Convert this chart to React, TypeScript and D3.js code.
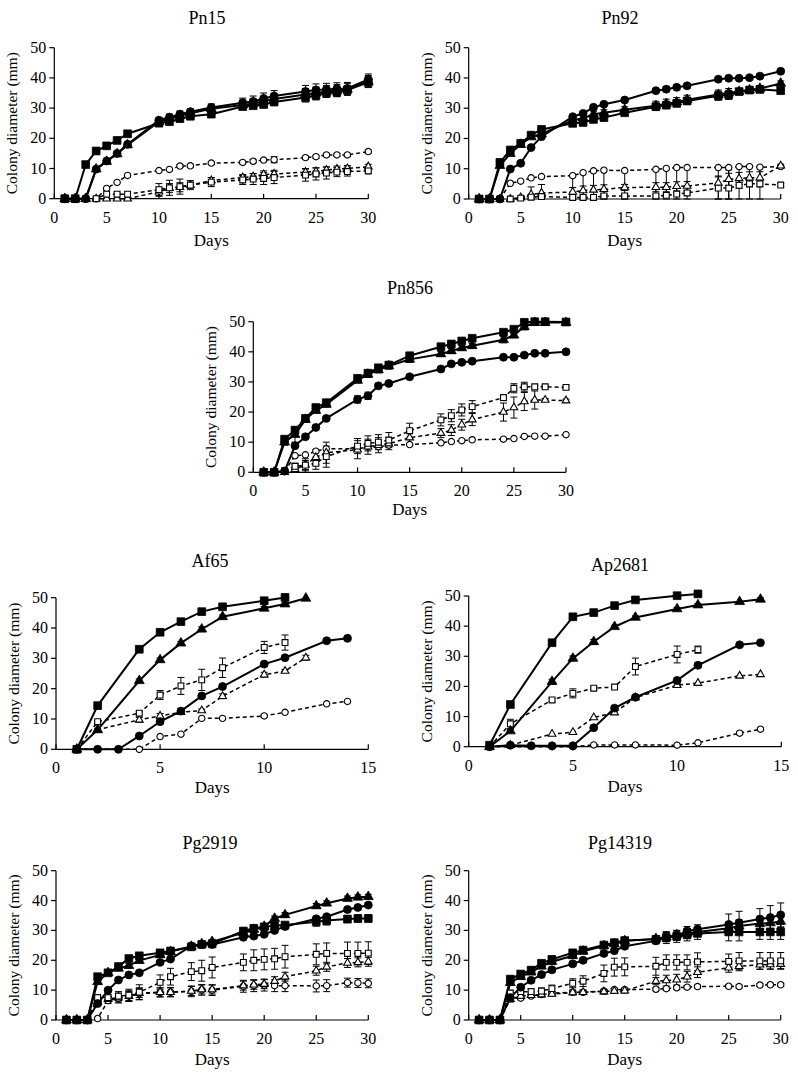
import React from 'react';
import * as d3 from 'd3';

// ---------- Days ----------
const DAYS_A = [1, 2, 3, 4, 5, 6, 7, 10, 11, 12, 13, 15, 18, 19, 20, 21, 24, 25, 26, 27, 28, 30];
const DAYS_AF = [1, 2, 3, 4, 5, 6, 7, 8, 10, 11, 12, 13, 14];
const DAYS_AP = [1, 2, 3, 4, 5, 6, 7, 8, 10, 11, 13, 14];
const DAYS_PG = [1, 2, 3, 4, 5, 6, 7, 8, 10, 11, 13, 14, 15, 18, 19, 20, 21, 22, 25, 26, 28, 29, 30];

const Y_TICKS = [0, 10, 20, 30, 40, 50];
const X_TICKS_30 = [0, 5, 10, 15, 20, 25, 30];
const X_TICKS_15 = [0, 5, 10, 15];

// ---------- Pn15 ----------
const PN15_FSQ = [0, 0, 11.3, 15.8, 17.5, 19.3, 21.5, 25, 25.5, 26.5, 27.3, 28, 30.5, 30.8, 31.2, 32, 33.5, 34.2, 35, 35.3, 36, 38.5];
const PN15_FSQ_E = [0, 0, 0.5, 0.5, 0.5, 0.5, 0.5, 0.8, 0.8, 0.8, 1, 1, 1, 1, 1, 1, 1.5, 1.5, 1.5, 1.5, 1.5, 1.5];
const PN15_FTR = [0, 0, 0, 9.8, 12.3, 14.8, 17.8, 25.5, 26.5, 27.5, 28.3, 29.8, 31, 31.5, 32.3, 33, 34.5, 35, 35.5, 35.8, 36.2, 38.8];
const PN15_FTR_E = [0, 0, 0, 0.5, 0.5, 0.5, 0.5, 1, 1, 1, 1, 1.2, 1.5, 1.5, 1.5, 1.5, 2, 2, 2, 2, 2, 2];
const PN15_FCI = [0, 0, 0, 9.8, 12.5, 15, 18, 26, 27, 28, 28.8, 30.2, 31.8, 32.2, 33.2, 34, 35.5, 36, 36.2, 36.4, 36.5, 39.5];
const PN15_FCI_E = [0, 0, 0, 0.5, 0.5, 0.5, 0.5, 0.8, 1, 1, 1, 1.2, 1.5, 1.8, 1.8, 1.8, 2, 2, 2, 2, 2, 1.8];
const PN15_OSQ = [0, 0, 0, 0, 1.5, 1.5, 1.5, 3, 3.6, 4, 4.5, 5.5, 6.2, 6.5, 6.7, 7, 7.8, 8.2, 8.5, 8.8, 9, 9.2];
const PN15_OSQ_E = [0, 0, 0, 0, 0.3, 0.3, 0.3, 2, 2.5, 2.5, 1.5, 1.5, 1.5, 1.8, 2, 2, 2, 2, 2, 1.5, 1.5, 0.8];
const PN15_OTR = [0, 0, 0, 0, 0, 0, 0, 2.3, 3.5, 3.8, 4.5, 6, 7, 7.3, 8, 8.2, 8.8, 9, 9.5, 9.8, 10, 10.6];
const PN15_OTR_E = [0, 0, 0, 0, 0, 0, 0, 1.5, 1.5, 1.5, 1, 1, 1, 1, 1.2, 1.2, 1.2, 1.2, 1, 1, 1, 0.8];
const PN15_OCI = [0, 0, 0, 0, 3.4, 5.4, 7.7, 9.3, 9.7, 10.8, 10.9, 11.8, 12, 12.4, 12.8, 12.9, 13.6, 13.9, 14.5, 14.5, 14.5, 15.6];
const PN15_OCI_E = [0, 0, 0, 0, 0.3, 0.3, 0.3, 0.3, 0.3, 0.5, 0.5, 0.5, 0.5, 0.5, 0.5, 1, 0.5, 0.5, 0.5, 0.5, 0.5, 0.5];

// ---------- Pn92 ----------
const PN92_FSQ = [0, 0, 12.1, 16.2, 18.4, 21.1, 23, 25, 25.3, 26.3, 26.9, 28.5, 30.5, 31, 31.6, 32.4, 34.1, 34.4, 35.5, 36, 36.2, 35.8];
const PN92_FSQ_E = [0, 0, 0.5, 0.5, 0.5, 0.5, 0.5, 0.8, 0.8, 0.8, 0.8, 0.8, 1, 1, 1, 1, 1.5, 1.5, 1, 1, 1, 0.8];
const PN92_FTR = [0, 0, 11, 15, 18, 20.5, 21.5, 26, 26.7, 28, 28.5, 29.5, 30.8, 31.5, 32, 32.8, 34.5, 35, 35.5, 36, 36.5, 38.2];
const PN92_FTR_E = [0, 0, 0.5, 0.5, 0.5, 0.5, 0.5, 1, 1, 1, 1, 1, 1.5, 1.5, 1.5, 1.5, 1.5, 1.5, 1, 1, 1, 0.8];
const PN92_FCI = [0, 0, 0, 9.9, 11.8, 17, 20.6, 27.2, 28.3, 30.3, 31.3, 32.7, 35.8, 36.3, 36.9, 37.4, 39.6, 39.9, 39.9, 40.1, 40.6, 42.2];
const PN92_FCI_E = [0, 0, 0, 0.3, 0.3, 0.3, 0.3, 0.5, 0.5, 0.5, 0.5, 0.5, 0.5, 0.8, 0.8, 0.8, 0.5, 0.5, 0.5, 0.5, 0.5, 0.5];
const PN92_OSQ = [0, 0, 0, 0, 0.3, 0.6, 0.8, 0.5, 0.5, 0.5, 1, 1, 1, 1.2, 1.6, 2, 3.6, 3.6, 4.5, 5, 5, 4.6];
const PN92_OSQ_E = [0, 0, 0, 0, 0.3, 0.5, 0.5, 0.5, 0.5, 0.5, 0.5, 0.5, 0.5, 0.5, 0.5, 0.5, 4, 6, 1, 1, 1, 0.5];
const PN92_OTR = [0, 0, 0, 0, 0.5, 1.5, 2, 2.3, 2.8, 3, 3.2, 3.8, 3.9, 3.9, 4.2, 4.3, 5.3, 6.5, 6.8, 7, 7, 11];
const PN92_OTR_E = [0, 0, 0, 0, 0.3, 2.5, 2.8, 1.5, 1.5, 1.5, 1.5, 1, 1.5, 1.5, 1.5, 1.5, 2, 2, 2, 2, 2, 0.5];
const PN92_OCI = [0, 0, 0, 5.2, 5.9, 7, 7.4, 7.7, 8.7, 9.3, 9.5, 9.4, 9.8, 10.1, 10.4, 10.4, 10.4, 10.4, 10.7, 10.7, 10.5, 10.7];
// lower-only error bars (reference shows them running down to the axis)
const PN92_OCI_E = [0, 0, 0, 0.3, 0.3, 0.3, 0.5, 7.7, 8.7, 9.3, 9.5, 9.4, 9.8, 10.1, 10.4, 10.4, 10.4, 10.4, 10.7, 10.7, 10.5, 0.5];

// ---------- Pn856 ----------
const PN856_FSQ = [0, 0, 11, 14, 17.9, 21.5, 23.1, 31.2, 32.9, 34.7, 35.6, 38.7, 41.7, 42.6, 43.6, 44.5, 46.5, 47.5, 49.8, 50, 50, 49.9];
const PN856_FSQ_E = [0, 0, 1, 0.5, 0.5, 0.8, 0.8, 0.8, 1, 1, 1, 1, 0.8, 0.8, 0.8, 0.8, 0.8, 0.8, 0.8, 0.5, 0.5, 0.5];
const PN856_FTR = [0, 0, 10, 12.5, 17.5, 20.5, 22.5, 30.5, 32.5, 34, 35.3, 37.5, 39.3, 40.3, 41.3, 42, 44, 45.5, 48.3, 49.7, 49.7, 49.7];
const PN856_FTR_E = [0, 0, 1, 2.5, 0.8, 0.8, 0.8, 0.8, 1, 1, 1, 1, 0.8, 0.8, 0.8, 0.8, 1, 0.8, 1, 0.5, 0.5, 0.5];
const PN856_FCI = [0, 0, 0.4, 8.8, 11.8, 14.9, 17.9, 24.2, 25.4, 28.7, 29.5, 31.7, 34.3, 36, 36.5, 36.9, 38.2, 38.2, 38.9, 39.5, 39.5, 40];
const PN856_FCI_E = [0, 0, 0, 0.5, 0.5, 0.5, 0.5, 1.2, 1.2, 0.8, 0.5, 0.5, 0.5, 0.5, 0.5, 0.5, 0.5, 0.5, 0.5, 0.5, 0.5, 0.5];
const PN856_OSQ = [0, 0, 0.5, 2, 2.4, 3, 5.2, 8.7, 9.6, 10, 10.7, 13.8, 17.4, 18.8, 20.7, 21.8, 24.8, 27.9, 28.4, 28.4, 28.4, 28.2];
const PN856_OSQ_E = [0, 0, 0, 1, 1.5, 2, 3.5, 2.5, 2.5, 2.5, 2.5, 2.5, 2, 2, 2, 2, 1, 1.5, 1.5, 0.5, 0.5, 0.5];
const PN856_OTR = [0, 0, 0, 1, 2.5, 5, 6.5, 7.5, 8.5, 9, 9.5, 11.5, 13, 14, 15.8, 17.5, 20, 21.5, 23.5, 24, 24, 23.8];
const PN856_OTR_E = [0, 0, 0, 1.5, 2, 2.5, 3.5, 3, 2.5, 2.5, 2, 2, 1.5, 1.8, 1.8, 2, 3, 3.5, 3, 3, 0.5, 0.5];
const PN856_OCI = [0, 0, 0.3, 5.5, 5.8, 7, 7.8, 7.8, 8.5, 8.5, 9, 9.2, 9.8, 10.2, 10.5, 10.8, 11, 11.2, 11.9, 12, 12, 12.5];
const PN856_OCI_E = [0, 0, 0, 0.3, 0.3, 0.3, 0.3, 0.3, 0.3, 0.3, 0.3, 0.3, 0.3, 0.3, 0.3, 0.3, 0.3, 0.3, 0.3, 0.3, 0.3, 0.3];

// ---------- Af65 ----------
const AF65_FSQ = [0, 14.4, null, 33, 38.6, 42.1, 45.4, 47, 49, 50.1, null, null, null];
const AF65_FSQ_E = [0, 0.5, 0, 0.5, 0.5, 0.5, 0.5, 0.5, 0.5, 0.5, 0, 0, 0];
const AF65_FTR = [0, 6.4, null, 22.6, 29.5, 35, 39.6, 43.7, 46.5, 47.9, 49.8, null, null];
const AF65_FTR_E = [0, 0.5, 0, 0.6, 0.6, 0.6, 0.8, 0.6, 0.6, 0.5, 0.3, 0, 0];
const AF65_FCI = [0, 0, 0, 4.4, 9.1, 12.6, 17.6, 20.7, 28.1, 30.2, null, 35.8, 36.6];
const AF65_FCI_E = [0, 0, 0, 0.3, 0.3, 0.3, 0.5, 0.5, 0.5, 0.5, 0, 0.5, 0.5];
const AF65_OSQ = [0, 9.1, null, 11.9, 17.9, 20.9, 22.9, 26.9, 33.6, 35.2, null, null, null];
const AF65_OSQ_E = [0, 0.5, 0, 0.5, 1.5, 2.8, 3.5, 3.2, 2, 2.5, 0, 0, 0];
const AF65_OTR = [0, 6.5, null, 9.7, 11, 12.2, 12.8, 17.5, 24.6, 25.8, 30.2, null, null];
const AF65_OTR_E = [0, 0.3, 0, 0.8, 0.8, 0.5, 0.5, 0.8, 0.8, 0.5, 0.8, 0, 0];
const AF65_OCI = [0, null, null, 0, 4.2, 5, 10.2, 10.2, 11, 12.2, null, 15, 15.8];
const AF65_OCI_E = [0, 0, 0, 0, 0.3, 0.3, 0.3, 0.3, 0.5, 0.3, 0, 0.3, 0.3];

// ---------- Ap2681 ----------
const AP_FSQ = [0.5, 14, null, 34.5, 43.1, 44.5, 46.8, 48.7, 50.1, 50.7, null, null];
const AP_FSQ_E = [0, 0.8, 0, 0.8, 0.5, 0.5, 0.8, 0.8, 0.5, 0.5, 0, 0];
const AP_FTR = [0, 5.2, null, 21.6, 29.3, 34.8, 39.8, 42.9, 45.7, 47, 48.1, 48.9];
const AP_FTR_E = [0, 0.5, 0, 0.8, 0.8, 0.8, 0.5, 0.5, 0.5, 0.5, 0.3, 0.5];
const AP_FCI = [0, 0.5, 0.3, 0.3, 0.3, 6.3, 12.8, 16.4, 22, 27, 33.8, 34.5];
const AP_FCI_E = [0, 0, 0, 0, 0, 0.5, 0.8, 0.5, 0.5, 0.8, 0.5, 0.5];
const AP_OSQ = [0, 7.6, null, 15.5, 17.7, 19.4, 19.8, 26.6, 30.6, 32.2, null, null];
const AP_OSQ_E = [0, 1.5, 0, 0.5, 1.5, 0.5, 0.5, 2.8, 2.8, 1.2, 0, 0];
const AP_OTR = [0, 0.5, null, 4.2, 4.8, 9.7, 11.3, 16.3, 20.4, 21.1, 23.5, 24];
const AP_OTR_E = [0, 0, 0, 0.3, 0.3, 0.3, 0.3, 0.3, 0.5, 0.3, 0.3, 0.3];
const AP_OCI = [0, null, null, 0, 0, 0.6, 0.6, 0.6, 0.5, 1.3, 4.5, 5.8];
const AP_OCI_E = [0, 0, 0, 0, 0, 0, 0, 0, 0, 0.3, 0.5, 0.5];

// ---------- Pg2919 ----------
const PG29_FTR = [0, 0, 0, 12.8, 15.8, 17.3, 18.2, 19.9, 21.8, 22.9, 24.6, 25.5, 26.2, 29.2, 30.3, 31.3, 34, 35.2, 38.2, 39.1, 40.7, 41.1, 41.3];
const PG29_FTR_E = [0, 0, 0, 0.8, 0.8, 0.8, 0.8, 0.8, 0.8, 0.8, 0.8, 0.8, 0.8, 0.8, 0.8, 0.8, 0.8, 0.8, 0.8, 0.8, 0.8, 0.8, 0.8];
const PG29_FSQ = [0, 0, 0, 14.5, 15.8, 17.9, 20.6, 21.5, 22.5, 23.1, 24.5, 25.3, 25.5, 29.8, 30.7, 31.2, 31.6, 31.8, 32.9, 33.3, 33.8, 34, 34];
const PG29_FSQ_E = [0, 0, 0, 0.8, 0.8, 0.8, 0.8, 0.8, 0.8, 0.8, 0.8, 0.8, 0.8, 0.8, 0.8, 0.8, 0.8, 0.8, 1.5, 1.5, 1.2, 1.2, 1.2];
const PG29_FCI = [0, 0, 0, 5.5, 10, 13.4, 15.1, 15.8, 19.3, 20.4, 24.8, 25.3, 25.3, 27.7, 28.1, 28.7, 30, 31.3, 33.9, 34.6, 37, 37.7, 38.5];
const PG29_FCI_E = [0, 0, 0, 0.5, 0.5, 0.5, 0.5, 0.5, 0.5, 0.5, 0.5, 0.5, 0.5, 0.5, 0.5, 0.5, 0.5, 0.5, 0.5, 0.5, 0.5, 0.5, 0.5];
const PG29_OSQ = [0, 0, 0, 7.5, 7.5, 8, 8.3, 9.3, 12.6, 14.5, 16.2, 16.5, 17.6, 19.3, 20, 20.3, 20.5, 21.2, 22, 22.3, 22.3, 22.3, 22.4];
const PG29_OSQ_E = [0, 0, 0, 1, 1, 1.5, 2, 2.5, 2.5, 2.8, 3, 3.5, 3.5, 2.8, 3.5, 3.5, 3.5, 3.8, 3.5, 3.5, 3.8, 3.8, 3.8];
const PG29_OTR = [0, 0, 0, 6, 7, 7.5, 8, 9, 9.3, 9.3, 9.7, 10.2, 10.2, 11.5, 11.8, 12, 13, 14.5, 16.5, 17.8, 19.1, 19.3, 19.5];
const PG29_OTR_E = [0, 0, 0, 1, 1, 1.5, 1.5, 1.5, 1.5, 1.5, 1.5, 1.5, 1.5, 1.5, 1.5, 1.5, 1.5, 1.5, 1.5, 1.5, 1.5, 1.5, 1.5];
const PG29_OCI = [0, 0, 0, 0.5, 6.5, 7.2, 8, 8.8, 9.2, 9.3, 9.6, 10.1, 10, 11.3, 11.5, 11.7, 11.5, 11.5, 11.4, 11.5, 12.5, 12.4, 12.3];
const PG29_OCI_E = [0, 0, 0, 0.3, 1, 1.5, 1.8, 2, 1.5, 1.5, 1.8, 1.8, 1.8, 2, 2, 2, 2, 2, 2, 2, 1.5, 1.5, 1.5];

// ---------- Pg14319 ----------
const PG14_FSQ = [0, 0, 0, 13.7, 15.4, 16.7, 19, 20.3, 22.5, 23.4, 25.1, 25.9, 26.6, 27, 27.6, 28, 28.5, 29, 29.5, 29.5, 29.5, 29.5, 29.5];
const PG14_FSQ_E = [0, 0, 0, 0.8, 0.8, 0.8, 0.8, 0.8, 0.8, 0.8, 0.8, 0.8, 0.8, 1, 2, 2, 2, 2, 3, 3, 2.5, 2.5, 2.5];
const PG14_FTR = [0, 0, 0, 12.5, 14.5, 16, 18, 19.5, 21.5, 23, 24.8, 25.5, 26.5, 27.2, 27.8, 28.5, 29, 29.5, 30.7, 31.5, 32.3, 32.5, 33];
const PG14_FTR_E = [0, 0, 0, 0.8, 0.8, 0.8, 0.8, 0.8, 0.8, 0.8, 0.8, 0.8, 0.8, 1, 1.5, 1.5, 1.5, 1.5, 2, 2, 2, 2, 2];
const PG14_FCI = [0, 0, 0, 7.5, 11, 13.3, 15.2, 16.8, 18.8, 20, 22.3, 23.2, 24.7, 26.5, 27.7, 28.2, 29.8, 30.4, 32, 32.6, 33.8, 34.3, 35.2];
const PG14_FCI_E = [0, 0, 0, 0.8, 0.8, 0.8, 0.8, 0.8, 0.8, 0.8, 0.8, 0.8, 0.8, 1, 1.5, 1.5, 1.5, 1.5, 3.5, 3.8, 3.5, 4, 4];
const PG14_OSQ = [0, 0, 0, 9, 9.5, 9.5, 9.7, 10.5, 12.3, 13, 15.6, 17.7, 17.8, 18, 19.3, 19.3, 19.3, 19.5, 19.6, 19.8, 19.8, 19.8, 19.8];
const PG14_OSQ_E = [0, 0, 0, 1, 1, 1, 1, 1.2, 1.5, 1.8, 2.8, 3, 3, 3, 2.5, 2.5, 2.5, 3, 2.5, 2.8, 2.8, 2.8, 2.8];
const PG14_OTR = [0, 0, 0, 7, 8, 8.3, 8.5, 8.7, 9.2, 9.3, 9.5, 9.7, 9.8, 13, 13.2, 13.5, 14.5, 16, 17.5, 18, 18.5, 18.6, 18.7];
const PG14_OTR_E = [0, 0, 0, 1, 0.8, 0.8, 0.8, 0.8, 0.8, 0.8, 0.8, 0.8, 0.8, 1.2, 1.8, 1.8, 1.8, 1.8, 1.5, 1.5, 1.5, 1.5, 1.5];
const PG14_OCI = [0, 0, 0, 7.5, 7.3, 8, 8.5, 9, 9.3, 9.3, 9.7, 10.2, 10.2, 10.3, 10.5, 10.8, 11, 11.2, 11.3, 11.2, 11.7, 11.8, 11.8];
const PG14_OCI_E = [0, 0, 0, 0.5, 0.5, 0.5, 0.5, 0.5, 0.5, 0.5, 0.5, 0.5, 0.5, 0.5, 0.5, 0.5, 0.5, 0.5, 0.5, 0.5, 0.5, 0.5, 0.5];

type Shape = 'square' | 'triangle' | 'circle';
type Series = { v: (number | null)[]; e: number[]; shape: Shape; filled: boolean; lowerOnly?: boolean };
type Panel = {
  title: string;
  days: number[];
  xMax: number;
  xTicks: number[];
  box: [number, number, number, number];
  titleX: number;
  titleY: number;
  daysY: number;
  series: Series[];
};

function mk(
  osq: (number | null)[], osqE: number[],
  otr: (number | null)[], otrE: number[],
  oci: (number | null)[], ociE: number[],
  fci: (number | null)[], fciE: number[],
  ftr: (number | null)[], ftrE: number[],
  fsq: (number | null)[], fsqE: number[],
  ociLowerOnly = false
): Series[] {
  return [
    { v: oci, e: ociE, shape: 'circle', filled: false, lowerOnly: ociLowerOnly },
    { v: otr, e: otrE, shape: 'triangle', filled: false },
    { v: osq, e: osqE, shape: 'square', filled: false },
    { v: fci, e: fciE, shape: 'circle', filled: true },
    { v: ftr, e: ftrE, shape: 'triangle', filled: true },
    { v: fsq, e: fsqE, shape: 'square', filled: true },
  ];
}

const PANELS: Panel[] = [
  {
    title: 'Pn15', days: DAYS_A, xMax: 30, xTicks: X_TICKS_30,
    box: [54.3, 368.3, 47.7, 198.7], titleX: 207, titleY: 24, daysY: 246,
    series: mk(PN15_OSQ, PN15_OSQ_E, PN15_OTR, PN15_OTR_E, PN15_OCI, PN15_OCI_E, PN15_FCI, PN15_FCI_E, PN15_FTR, PN15_FTR_E, PN15_FSQ, PN15_FSQ_E),
  },
  {
    title: 'Pn92', days: DAYS_A, xMax: 30, xTicks: X_TICKS_30,
    box: [468.7, 780.7, 47.7, 199], titleX: 620, titleY: 24, daysY: 246,
    series: mk(PN92_OSQ, PN92_OSQ_E, PN92_OTR, PN92_OTR_E, PN92_OCI, PN92_OCI_E, PN92_FCI, PN92_FCI_E, PN92_FTR, PN92_FTR_E, PN92_FSQ, PN92_FSQ_E, true),
  },
  {
    title: 'Pn856', days: DAYS_A, xMax: 30, xTicks: X_TICKS_30,
    box: [253.3, 566, 321.7, 472.3], titleX: 410, titleY: 294, daysY: 515,
    series: mk(PN856_OSQ, PN856_OSQ_E, PN856_OTR, PN856_OTR_E, PN856_OCI, PN856_OCI_E, PN856_FCI, PN856_FCI_E, PN856_FTR, PN856_FTR_E, PN856_FSQ, PN856_FSQ_E),
  },
  {
    title: 'Af65', days: DAYS_AF, xMax: 15, xTicks: X_TICKS_15,
    box: [56, 368.3, 597.7, 749.3], titleX: 210, titleY: 567, daysY: 793,
    series: mk(AF65_OSQ, AF65_OSQ_E, AF65_OTR, AF65_OTR_E, AF65_OCI, AF65_OCI_E, AF65_FCI, AF65_FCI_E, AF65_FTR, AF65_FTR_E, AF65_FSQ, AF65_FSQ_E),
  },
  {
    title: 'Ap2681', days: DAYS_AP, xMax: 15, xTicks: X_TICKS_15,
    box: [468.7, 781.3, 596, 746.7], titleX: 620, titleY: 571, daysY: 792,
    series: mk(AP_OSQ, AP_OSQ_E, AP_OTR, AP_OTR_E, AP_OCI, AP_OCI_E, AP_FCI, AP_FCI_E, AP_FTR, AP_FTR_E, AP_FSQ, AP_FSQ_E),
  },
  {
    title: 'Pg2919', days: DAYS_PG, xMax: 30, xTicks: X_TICKS_30,
    box: [56, 368.3, 870.7, 1020], titleX: 210, titleY: 849, daysY: 1065,
    series: mk(PG29_OSQ, PG29_OSQ_E, PG29_OTR, PG29_OTR_E, PG29_OCI, PG29_OCI_E, PG29_FCI, PG29_FCI_E, PG29_FTR, PG29_FTR_E, PG29_FSQ, PG29_FSQ_E),
  },
  {
    title: 'Pg14319', days: DAYS_PG, xMax: 30, xTicks: X_TICKS_30,
    box: [468.7, 780.7, 870.7, 1020], titleX: 620, titleY: 849, daysY: 1065,
    series: mk(PG14_OSQ, PG14_OSQ_E, PG14_OTR, PG14_OTR_E, PG14_OCI, PG14_OCI_E, PG14_FCI, PG14_FCI_E, PG14_FTR, PG14_FTR_E, PG14_FSQ, PG14_FSQ_E),
  },
];

const TXT: React.CSSProperties = { fontFamily: 'Liberation Serif, Times New Roman, serif' };

function symbolPath(shape: Shape, filled: boolean): string {
  const type = shape === 'square' ? d3.symbolSquare : shape === 'triangle' ? d3.symbolTriangle : d3.symbolCircle;
  const size = filled
    ? (shape === 'square' ? 60 : shape === 'triangle' ? 42 : 50)
    : (shape === 'square' ? 34 : shape === 'triangle' ? 26 : 32);
  return d3.symbol().type(type).size(size)() || '';
}

function PanelView({ p }: { p: Panel }) {
  const [l, r, t, b] = p.box;
  const x = d3.scaleLinear().domain([0, p.xMax]).range([l, r]);
  const y = d3.scaleLinear().domain([0, 50]).range([b, t]);
  const line = d3.line<[number, number]>().x((d) => x(d[0])).y((d) => y(d[1]));

  const pts = (s: Series) =>
    p.days
      .map((d, i) => ({ d, v: s.v[i], e: s.e[i] || 0 }))
      .filter((o) => o.v !== null && o.v !== undefined) as { d: number; v: number; e: number }[];

  return (
    <g>
      <text x={p.titleX} y={p.titleY} textAnchor="middle" fontSize={18} style={TXT} fill="#000">
        {p.title}
      </text>
      {/* y axis */}
      <line x1={l} x2={l} y1={t} y2={b} stroke="#000" strokeWidth={1.2} />
      {Y_TICKS.map((v) => (
        <g key={'y' + v}>
          <line x1={l - 5} x2={l} y1={y(v)} y2={y(v)} stroke="#000" strokeWidth={1.2} />
          <text x={l - 8} y={y(v) + 5} textAnchor="end" fontSize={16} style={TXT} fill="#000">
            {v}
          </text>
        </g>
      ))}
      <text
        transform={`translate(${l - 37},${(t + b) / 2}) rotate(-90)`}
        textAnchor="middle"
        fontSize={15.5}
        style={TXT}
        fill="#000"
      >
        Colony diameter (mm)
      </text>
      {/* x axis */}
      <line x1={l} x2={r} y1={b} y2={b} stroke="#000" strokeWidth={1.2} />
      {p.xTicks.map((v) => (
        <g key={'x' + v}>
          <line x1={x(v)} x2={x(v)} y1={b} y2={b - 5} stroke="#000" strokeWidth={1.2} />
          <text x={x(v)} y={b + 24} textAnchor="middle" fontSize={16} style={TXT} fill="#000">
            {v}
          </text>
        </g>
      ))}
      <text x={(l + r) / 2} y={p.daysY} textAnchor="middle" fontSize={17} style={TXT} fill="#000">
        Days
      </text>
      {/* series */}
      {p.series.map((s, si) => {
        const ps = pts(s);
        return (
          <g key={'s' + si}>
            <path
              d={line(ps.map((o) => [o.d, o.v] as [number, number])) || ''}
              fill="none"
              stroke="#000"
              strokeWidth={s.filled ? 2 : 1.5}
              strokeDasharray={s.filled ? undefined : '4,3'}
            />
            {ps
              .filter((o) => o.e >= 0.4)
              .map((o, i) => {
                const cx = x(o.d);
                const y1 = y(Math.max(0, o.v - o.e));
                const y2 = s.lowerOnly ? y(o.v) : y(Math.min(50.5, o.v + o.e));
                return (
                  <g key={'e' + i} stroke="#000" strokeWidth={1}>
                    <line x1={cx} x2={cx} y1={y1} y2={y2} />
                    <line x1={cx - 3.5} x2={cx + 3.5} y1={y1} y2={y1} />
                    {!s.lowerOnly && <line x1={cx - 3.5} x2={cx + 3.5} y1={y2} y2={y2} />}
                  </g>
                );
              })}
          </g>
        );
      })}
      {p.series.map((s, si) => {
        const ps = pts(s);
        const path = symbolPath(s.shape, s.filled);
        return (
          <g key={'m' + si}>
            {ps.map((o, i) => (
              <path
                key={i}
                d={path}
                transform={`translate(${x(o.d)},${y(o.v)})`}
                fill={s.filled ? '#000' : '#fff'}
                stroke="#000"
                strokeWidth={s.filled ? 0.8 : 1.1}
              />
            ))}
          </g>
        );
      })}
    </g>
  );
}

export default function App() {
  return (
    <svg
      width={798}
      height={1075}
      viewBox="0 0 798 1075"
      style={{ position: 'absolute', left: 0, top: 0, background: '#fff' }}
    >
      <rect x={0} y={0} width={798} height={1075} fill="#fff" />
      {PANELS.map((p) => (
        <PanelView key={p.title} p={p} />
      ))}
    </svg>
  );
}
